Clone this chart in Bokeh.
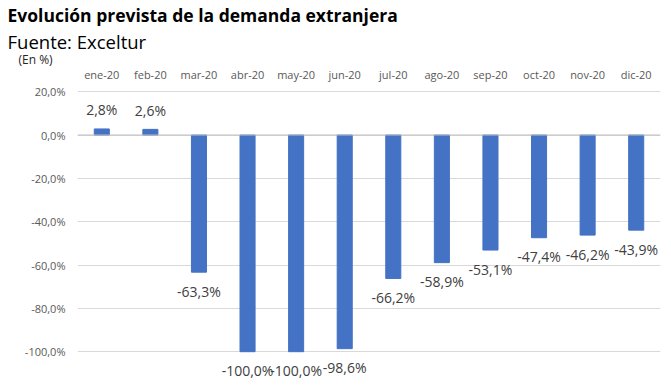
from bokeh.plotting import figure
from bokeh.models import ColumnDataSource, LabelSet, Title, Span, CustomJSTickFormatter, FixedTicker
from bokeh.core.properties import value
from bokeh.embed import file_html
from bokeh.resources import INLINE

months = ["ene-20", "feb-20", "mar-20", "abr-20", "may-20", "jun-20",
          "jul-20", "ago-20", "sep-20", "oct-20", "nov-20", "dic-20"]
values = [2.8, 2.6, -63.3, -100.0, -100.0, -98.6, -66.2, -58.9, -53.1, -47.4, -46.2, -43.9]
y_ticks = [20, 0, -20, -40, -60, -80, -100]

title_text = "Evolución prevista de la demanda extranjera"
subtitle_text = "Fuente: Exceltur"
unit_text = "(En %)"

FONT = "Open Sans"

labels = [("%.1f" % v).replace(".", ",") + "%" for v in values]
offsets = [19 if v >= 0 else -19 for v in values]
src = ColumnDataSource(dict(x=months, top=values, lab=labels, off=offsets))

p = figure(width=671, height=385, x_range=months, y_range=(-115.6, 21),
           x_axis_location="above", output_backend="svg", toolbar_location=None,
           title=None, min_border=0, min_border_left=77, min_border_right=11,
           min_border_bottom=0, min_border_top=0)
p.outline_line_color = None
p.background_fill_color = "white"
p.border_fill_color = "white"

p.vbar(x="x", top="top", bottom=0, width=0.31, source=src, color="#4472C4")

p.add_layout(LabelSet(x="x", y="top", text="lab", y_offset="off", source=src,
                      text_align="center", text_baseline="middle",
                      text_font=value(FONT), text_font_size="14px", text_color="#404040"))

p.add_layout(Span(location=0, dimension="width", line_color="#bfbfbf", line_width=1))

# axes
p.xaxis.axis_line_color = None
p.xaxis.major_tick_line_color = None
p.xaxis.minor_tick_line_color = None
p.xaxis.major_tick_out = 0
p.xaxis.major_tick_in = 0
p.xaxis.major_label_text_font = FONT
p.xaxis.major_label_text_font_size = "11px"
p.xaxis.major_label_text_color = "#595959"
p.xaxis.major_label_standoff = 8

p.yaxis.ticker = FixedTicker(ticks=y_ticks)
p.yaxis.formatter = CustomJSTickFormatter(code="return tick.toFixed(1).replace('.', ',') + '%';")
p.yaxis.axis_line_color = None
p.yaxis.major_tick_line_color = None
p.yaxis.minor_tick_line_color = None
p.yaxis.major_tick_out = 0
p.yaxis.major_tick_in = 0
p.yaxis.major_label_text_font = FONT
p.yaxis.major_label_text_font_size = "11px"
p.yaxis.major_label_text_color = "#595959"
p.yaxis.major_label_standoff = 12

p.xgrid.grid_line_color = None
p.ygrid.grid_line_color = "#d9d9d9"
p.ygrid.ticker = FixedTicker(ticks=y_ticks)

p.add_layout(Title(text=unit_text, text_font=FONT, text_font_size="12px",
                   text_font_style="normal", text_color="#262626", offset=-59, standoff=-9), "above")
p.add_layout(Title(text=subtitle_text, text_font=FONT, text_font_size="18.5px",
                   text_font_style="normal", text_color="#000000", offset=-70, standoff=0), "above")
p.add_layout(Title(text=title_text, text_font=FONT, text_font_size="17.5px",
                   text_font_style="bold", text_color="#000000", offset=-70, standoff=0), "above")

open("out.html", "w").write(file_html(p, INLINE))
